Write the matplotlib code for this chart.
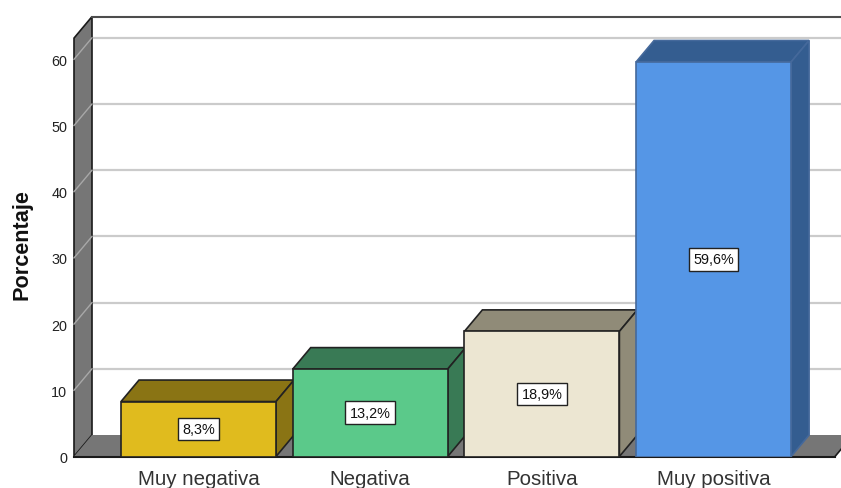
import matplotlib
matplotlib.use('Agg')
import matplotlib.pyplot as plt
from matplotlib.patches import Polygon

plt.rcParams['font.family'] = ['Liberation Sans', 'DejaVu Sans']

categories = ['Muy negativa', 'Negativa', 'Positiva', 'Muy positiva']
values = [8.3, 13.2, 18.9, 59.6]
bar_labels = ['8,3%', '13,2%', '18,9%', '59,6%']
front_colors = ['#e0bb1e', '#5bc98a', '#ece6d2', '#5596e6']
depth_colors = ['#8a7414', '#397a55', '#908b78', '#345d90']
edge_colors = ['#222222', '#222222', '#222222', '#45699b']
y_ticks = [0, 10, 20, 30, 40, 50, 60]

W, H = 841, 489
PX_X = 171.7   # pixels per category
PX_Y = 6.62    # pixels per percent
X0 = 198.5     # pixel of first category
Y0 = 457.5     # pixel of value 0
LEFT = 74
DEPTH_X = 18 / PX_X
DEPTH_Y = 21.5 / PX_Y
BAR_W = 155 / PX_X

fig = plt.figure(figsize=(W / 100, H / 100), dpi=100)
ax = fig.add_axes([LEFT / W, (H - Y0) / H, (W - LEFT) / W, Y0 / H])
ax.set_xlim((LEFT - X0) / PX_X, (W - X0) / PX_X)
ax.set_ylim(0, Y0 / PX_Y)
for s in ax.spines.values():
    s.set_visible(False)

xmin = ax.get_xlim()[0]
xmax = ax.get_xlim()[1]
wall_top = 63.2
floor_right = (835 - X0) / PX_X

# side wall
ax.add_patch(Polygon([(xmin, 0), (xmin + DEPTH_X, DEPTH_Y), (xmin + DEPTH_X, wall_top + DEPTH_Y), (xmin, wall_top)],
                     closed=True, fc='#767676', ec='#1a1a1a', lw=1.2, zorder=1, clip_on=False))
# floor
ax.add_patch(Polygon([(xmin, 0), (xmin + DEPTH_X, DEPTH_Y), (floor_right + DEPTH_X, DEPTH_Y), (floor_right, 0)],
                     closed=True, fc='#767676', ec='none', zorder=1))
ax.plot([floor_right, floor_right + DEPTH_X], [0, DEPTH_Y], color='#1a1a1a', lw=1.2, zorder=1.2)

# grid lines on back wall and side wall
for t in y_ticks[1:]:
    ax.plot([xmin + DEPTH_X, xmax], [t + DEPTH_Y, t + DEPTH_Y], color='#cbcbcb', lw=1.6, zorder=0.5)
    ax.plot([xmin, xmin + DEPTH_X], [t, t + DEPTH_Y], color='#a8a8a8', lw=1.0, zorder=1.5, clip_on=False)

# top edge of the back wall
ax.plot([xmin + DEPTH_X, xmax], [wall_top + DEPTH_Y, wall_top + DEPTH_Y], color='#4d4d4d', lw=1.5, zorder=2)
ax.plot([xmin, floor_right], [0, 0], color='#1a1a1a', lw=1.5, zorder=2, clip_on=False)

# bars
for i, v in enumerate(values):
    l = i - BAR_W / 2
    r = i + BAR_W / 2
    z = 3 + i
    ax.add_patch(Polygon([(l, v), (l + DEPTH_X, v + DEPTH_Y), (r + DEPTH_X, v + DEPTH_Y), (r, v)], closed=True,
                         fc=depth_colors[i], ec=edge_colors[i], lw=1.2, zorder=z))
    ax.add_patch(Polygon([(r, 0), (r + DEPTH_X, DEPTH_Y), (r + DEPTH_X, v + DEPTH_Y), (r, v)], closed=True,
                         fc=depth_colors[i], ec=edge_colors[i], lw=1.2, zorder=z))
    ax.bar(i, v, width=BAR_W, color=front_colors[i], edgecolor=edge_colors[i], linewidth=1.2, zorder=z)
    ax.text(i, v / 2, bar_labels[i], ha='center', va='center', fontsize=10.4, color='#111111', zorder=20,
            bbox=dict(boxstyle='square,pad=0.3', fc='white', ec='#222222', lw=1))

ax.set_xticks(range(len(categories)))
ax.set_xticklabels(categories, fontsize=14.8, color='#333333')
ax.set_yticks(y_ticks)
ax.set_yticklabels([str(t) for t in y_ticks], fontsize=10.4, color='#222222')
ax.tick_params(axis='x', length=0, pad=9)
ax.tick_params(axis='y', length=0, pad=5)
ax.set_ylabel('Porcentaje', fontsize=15.6, fontweight='bold', color='#111111')
ax.yaxis.set_label_coords((32 - LEFT) / (W - LEFT), (Y0 - 245) / Y0)

fig.savefig('out.png', dpi=100, facecolor='white')
plt.close(fig)
